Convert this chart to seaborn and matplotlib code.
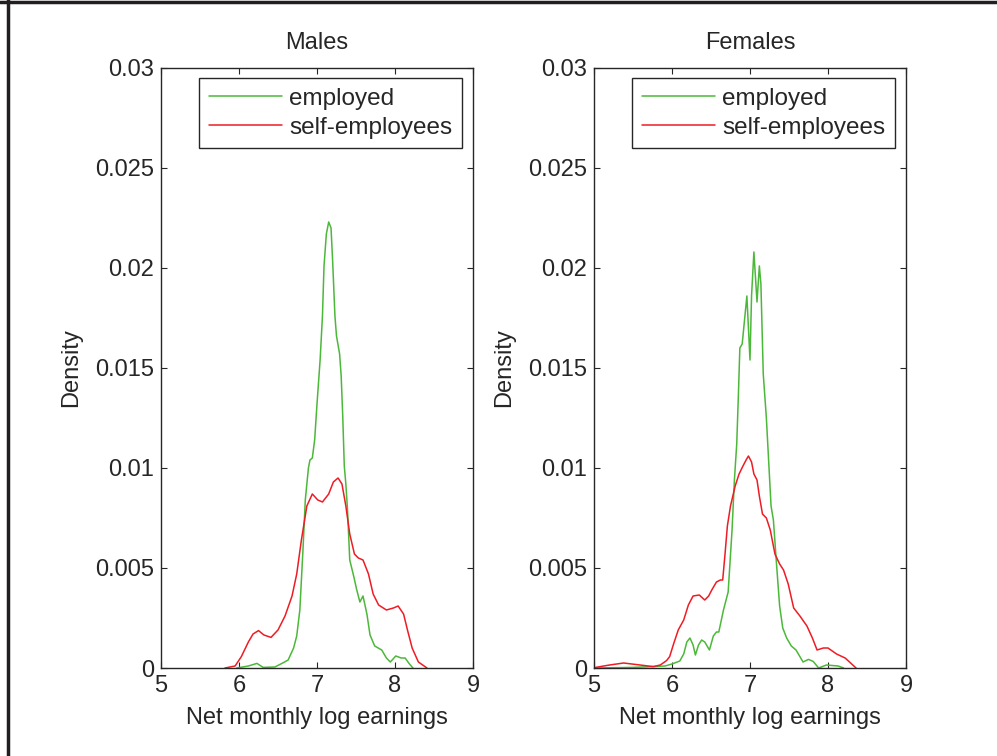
import pandas as pd
import matplotlib.pyplot as plt
import matplotlib.lines as mlines
import seaborn as sns

# Males, employed
male_emp_x = [5.97, 6.12, 6.23, 6.31, 6.46, 6.57, 6.63, 6.70, 6.74, 6.78, 6.82, 6.85, 6.89,
              6.91, 6.94, 6.97, 7.00, 7.04, 7.07, 7.09, 7.12, 7.15, 7.18, 7.20, 7.23, 7.25,
              7.29, 7.31, 7.33, 7.35, 7.37, 7.39, 7.42, 7.47, 7.51, 7.55, 7.59, 7.64, 7.68,
              7.74, 7.83, 7.89, 7.94, 8.01, 8.08, 8.13, 8.18, 8.23]
male_emp_y = [0.0, 0.0001, 0.00023, 0.00003, 0.00005, 0.00027, 0.0004, 0.0010, 0.0016, 0.0029,
              0.0059, 0.0084, 0.0100, 0.0104, 0.0105, 0.0114, 0.0132, 0.0154, 0.0176, 0.0201,
              0.0217, 0.0223, 0.0220, 0.0204, 0.0176, 0.0166, 0.0157, 0.0146, 0.0126, 0.0101,
              0.0092, 0.0080, 0.0054, 0.0046, 0.0039, 0.0033, 0.0036, 0.0027, 0.00165, 0.0011,
              0.0009, 0.0005, 0.0003, 0.0006, 0.0005, 0.0005, 0.00023, 0.0]

# Males, self-employed
male_self_x = [5.82, 5.95, 6.03, 6.12, 6.18, 6.25, 6.32, 6.41, 6.50, 6.59, 6.68, 6.74, 6.80,
               6.87, 6.94, 7.01, 7.07, 7.15, 7.21, 7.27, 7.32, 7.37, 7.42, 7.48, 7.53, 7.59,
               7.66, 7.72, 7.79, 7.89, 7.98, 8.04, 8.11, 8.16, 8.22, 8.30, 8.41]
male_self_y = [0.0, 0.0001, 0.00057, 0.0013, 0.0017, 0.00187, 0.00165, 0.00153, 0.0019, 0.0026,
               0.0036, 0.0047, 0.0064, 0.0081, 0.0087, 0.0084, 0.0083, 0.0087, 0.0093, 0.0095,
               0.0092, 0.0081, 0.0067, 0.0057, 0.0055, 0.0054, 0.0047, 0.0037, 0.00315, 0.0029,
               0.0030, 0.0031, 0.0027, 0.0019, 0.0010, 0.0003, 0.0]

# Females, employed
fem_emp_x = [5.02, 5.50, 5.91, 6.00, 6.10, 6.15, 6.19, 6.23, 6.27, 6.30, 6.34, 6.38, 6.42,
             6.48, 6.53, 6.57, 6.60, 6.66, 6.72, 6.77, 6.80, 6.83, 6.85, 6.87, 6.90, 6.96,
             7.00, 7.02, 7.05, 7.09, 7.12, 7.14, 7.17, 7.21, 7.27, 7.30, 7.34, 7.38, 7.42,
             7.47, 7.53, 7.59, 7.64, 7.68, 7.75, 7.81, 7.88, 7.98, 8.13, 8.20]
fem_emp_y = [0.0, 0.00003, 0.0001, 0.0002, 0.00035, 0.0007, 0.0013, 0.0015, 0.00115, 0.00065,
             0.00115, 0.0014, 0.0013, 0.0009, 0.0016, 0.0018, 0.0018, 0.0029, 0.0038, 0.0069,
             0.0094, 0.0112, 0.0135, 0.0160, 0.0162, 0.0186, 0.0154, 0.0186, 0.0208, 0.0183,
             0.0201, 0.0192, 0.0147, 0.0125, 0.0081, 0.0074, 0.0052, 0.0031, 0.0020, 0.0015,
             0.0011, 0.0009, 0.00057, 0.0003, 0.00043, 0.00033, 0.0, 0.00015, 0.0001, 0.0]

# Females, self-employed
fem_self_x = [5.02, 5.20, 5.38, 5.59, 5.76, 5.85, 5.93, 5.97, 6.02, 6.08, 6.15, 6.21, 6.27,
              6.35, 6.42, 6.47, 6.51, 6.57, 6.62, 6.65, 6.68, 6.71, 6.75, 6.81, 6.86, 6.91,
              6.95, 6.98, 7.02, 7.05, 7.09, 7.12, 7.16, 7.21, 7.26, 7.32, 7.38, 7.43, 7.49,
              7.56, 7.64, 7.73, 7.80, 7.86, 7.94, 8.00, 8.11, 8.22, 8.36]
fem_self_y = [0.00003, 0.00015, 0.00025, 0.00015, 0.00007, 0.00015, 0.00037, 0.00057, 0.0012,
              0.0019, 0.0024, 0.00315, 0.0036, 0.00365, 0.0034, 0.0036, 0.0039, 0.0043, 0.0044,
              0.0044, 0.0057, 0.0071, 0.0081, 0.0091, 0.0097, 0.0101, 0.0104, 0.0106, 0.0103,
              0.0097, 0.0094, 0.0086, 0.0077, 0.0075, 0.0069, 0.0057, 0.0052, 0.0049, 0.0042,
              0.0030, 0.0026, 0.0021, 0.0015, 0.0009, 0.0010, 0.0010, 0.0007, 0.0005, 0.0]

groups = ["employed", "self-employees"]
panels = ["Males", "Females"]
x_ticks = [5, 6, 7, 8, 9]
y_ticks = [0, 0.005, 0.01, 0.015, 0.02, 0.025, 0.03]
y_labels = ["0", "0.005", "0.01", "0.015", "0.02", "0.025", "0.03"]
colors = {"employed": "#4cb83a", "self-employees": "#ee1c24"}


def make_frame(x, y, group, panel):
    return pd.DataFrame({"x": x, "density": y, "group": group, "panel": panel})


data = pd.concat([
    make_frame(male_emp_x, male_emp_y, "employed", "Males"),
    make_frame(male_self_x, male_self_y, "self-employees", "Males"),
    make_frame(fem_emp_x, fem_emp_y, "employed", "Females"),
    make_frame(fem_self_x, fem_self_y, "self-employees", "Females"),
], ignore_index=True)

sns.set_style("ticks")
plt.rcParams["font.family"] = ["Liberation Sans", "DejaVu Sans"]
plt.rcParams["font.size"] = 17

fig = plt.figure(figsize=(9.97, 7.56), dpi=100)
positions = [[0.1615, 0.1164, 0.3129, 0.7937], [0.5958, 0.1164, 0.3129, 0.7937]]

for panel, pos in zip(panels, positions):
    ax = fig.add_axes(pos)
    sub = data[data["panel"] == panel]
    sns.lineplot(data=sub, x="x", y="density", hue="group", hue_order=groups,
                 palette=colors, linewidth=1.1, sort=False, estimator=None, ax=ax, legend=False)
    ax.set_xlim(5, 9)
    ax.set_ylim(0, 0.03)
    ax.set_xticks(x_ticks)
    ax.set_yticks(y_ticks)
    ax.set_yticklabels(y_labels)
    ax.tick_params(direction="in", length=4, width=0.8, top=True, right=True,
                   labelsize=17, colors="#262626", pad=5)
    for s in ax.spines.values():
        s.set_linewidth(1.0)
        s.set_color("#262626")
    ax.set_title(panel, fontsize=17, pad=14, color="#262626")
    ax.set_xlabel("Net monthly log earnings", fontsize=17, labelpad=7, color="#262626")
    ax.set_ylabel("Density", fontsize=17, labelpad=9, color="#262626")
    handles = [mlines.Line2D([], [], color=colors[g], linewidth=1.1) for g in groups]
    leg = ax.legend(handles, groups, loc="upper right", bbox_to_anchor=(0.964, 0.983),
                    borderaxespad=0, fancybox=False, framealpha=1, edgecolor="#262626",
                    handlelength=3.0, fontsize=17.5, borderpad=0.4, labelspacing=0.28,
                    handletextpad=0.3)
    leg.get_frame().set_linewidth(1.0)
    for t in leg.get_texts():
        t.set_color("#262626")

# partial figure frame (left and top edges)
fig.add_artist(mlines.Line2D([0.008, 0.008], [0, 1], color="#231f20", linewidth=2.5,
                             transform=fig.transFigure))
fig.add_artist(mlines.Line2D([0, 1], [0.998, 0.998], color="#231f20", linewidth=2.5,
                             transform=fig.transFigure))

fig.savefig("out.png", dpi=100)
